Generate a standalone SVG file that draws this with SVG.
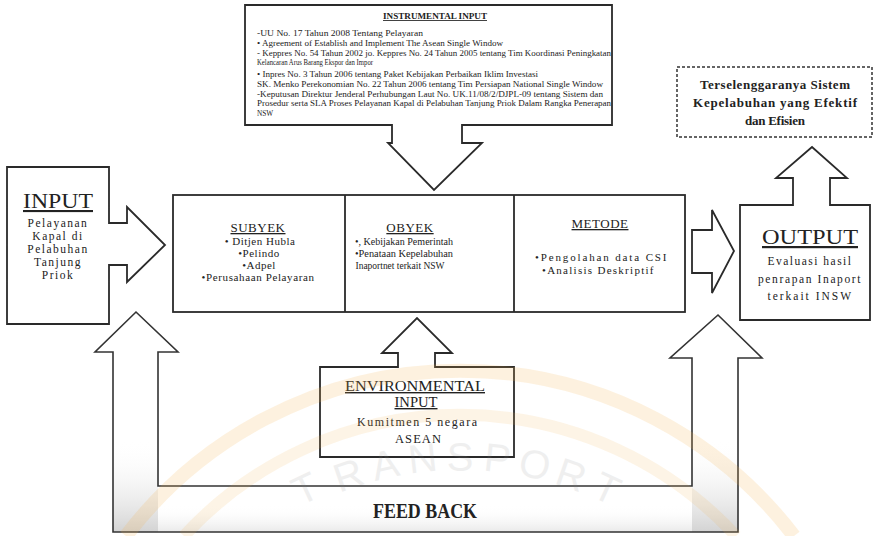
<svg xmlns="http://www.w3.org/2000/svg" width="875" height="536" viewBox="0 0 875 536">
<style>
.box{fill:#fff;stroke:#2a2a2a;stroke-width:1.8;stroke-linejoin:miter}
.fb{fill:none;stroke:#333;stroke-width:1.6}
.t{font-family:"Liberation Serif",serif;fill:#222}
.c{text-anchor:middle}
.u{text-decoration:underline}
.s{font-size:7.3px}
.b12{font-size:11px;letter-spacing:0.5px}
.b13{font-size:11.5px;letter-spacing:1.5px}
.wm{font-family:"Liberation Sans",sans-serif;font-size:40px;fill:#888;opacity:0.13;text-anchor:middle}
</style>
<defs>
<linearGradient id="stip" x1="0" y1="0" x2="0" y2="1">
<stop offset="0" stop-color="#fff" stop-opacity="0"/>
<stop offset="1" stop-color="#c8c8c8" stop-opacity="0.8"/>
</linearGradient>
</defs>

<g id="feedback">
<rect x="113" y="440" width="45" height="92" fill="url(#stip)"/>
<rect x="692" y="440" width="46" height="92" fill="url(#stip)"/>
<rect x="158" y="505" width="534" height="27" fill="url(#stip)" opacity="0.5"/>
<path class="fb" d="M113,532 V352 H95 L136,312 L178,352 H158 V486 H692 V358 H670 L718,315 L762,358 H738 V532 Z"/>
<text class="t c" x="425" y="518" font-size="21" font-weight="bold" textLength="104" lengthAdjust="spacingAndGlyphs">FEED BACK</text>
</g>

<g id="instrumental">
<path class="box" d="M245,5 H612 V125 H462 V143 H482 L434,190 L388,143 H392 V125 H245 Z"/>
<text class="t c u" x="435" y="19" font-size="8.5" font-weight="bold" textLength="104" lengthAdjust="spacingAndGlyphs">INSTRUMENTAL INPUT</text>
<text class="t s" x="257" y="36" textLength="166" lengthAdjust="spacingAndGlyphs">-UU No. 17 Tahun 2008 Tentang Pelayaran</text>
<text class="t s" x="257" y="46" textLength="246" lengthAdjust="spacingAndGlyphs">• Agreement of Establish and Implement The Asean Single Window</text>
<text class="t s" x="257" y="56" textLength="354" lengthAdjust="spacingAndGlyphs">- Keppres No. 54 Tahun 2002 jo. Keppres No. 24 Tahun 2005 tentang Tim Koordinasi Peningkatan</text>
<text class="t s" x="257" y="65" textLength="116" lengthAdjust="spacingAndGlyphs">Kelancaran Arus Barang Ekspor dan Impor</text>
<text class="t s" x="257" y="77" textLength="281" lengthAdjust="spacingAndGlyphs">• Inpres No. 3 Tahun 2006 tentang Paket Kebijakan Perbaikan Iklim Investasi</text>
<text class="t s" x="257" y="87" textLength="346" lengthAdjust="spacingAndGlyphs">SK. Menko Perekonomian No. 22 Tahun 2006 tentang Tim Persiapan National Single Window</text>
<text class="t s" x="257" y="97" textLength="346" lengthAdjust="spacingAndGlyphs">-Keputusan Direktur Jenderal Perhubungan Laut No. UK.11/08/2/DJPL-09 tentang Sistem dan</text>
<text class="t s" x="257" y="106" textLength="354" lengthAdjust="spacingAndGlyphs">Prosedur serta SLA Proses Pelayanan Kapal di Pelabuhan Tanjung Priok Dalam Rangka Penerapan</text>
<text class="t s" x="257" y="116">NSW</text>
</g>

<g id="input">
<path class="box" d="M7,167 H109 V223 H127 V207 L165,245 L127,282 V265 H109 V324 H7 Z"/>
<text class="t c u" x="58" y="208" font-size="21" textLength="70" lengthAdjust="spacingAndGlyphs">INPUT</text>
<text class="t c b13" x="58" y="227">Pelayanan</text>
<text class="t c b13" x="58" y="240">Kapal di</text>
<text class="t c b13" x="58" y="253">Pelabuhan</text>
<text class="t c b13" x="58" y="266">Tanjung</text>
<text class="t c b13" x="58" y="279">Priok</text>
</g>

<g id="process">
<rect class="box" x="173" y="195" width="512" height="117"/>
<line class="box" x1="345" y1="195" x2="345" y2="312"/>
<line class="box" x1="514" y1="195" x2="514" y2="312"/>
<text class="t c u" x="258" y="232" font-size="13" letter-spacing="0.5">SUBYEK</text>
<text class="t c b12" x="260" y="245">• Ditjen Hubla</text>
<text class="t c b12" x="259" y="257">•Pelindo</text>
<text class="t c b12" x="259" y="269">•Adpel</text>
<text class="t c b12" x="258" y="281" textLength="113">•Perusahaan Pelayaran</text>
<text class="t c u" x="410" y="232" font-size="13" letter-spacing="0.5">OBYEK</text>
<text class="t c" x="404" y="245" font-size="11" textLength="98" lengthAdjust="spacingAndGlyphs">•, Kebijakan Pemerintah</text>
<text class="t c" x="404" y="257" font-size="11" textLength="98" lengthAdjust="spacingAndGlyphs">•Penataan Kepelabuhan</text>
<text class="t c" x="400" y="269" font-size="11" textLength="89" lengthAdjust="spacingAndGlyphs">Inaportnet terkait NSW</text>
<text class="t c u" x="600" y="228" font-size="13" letter-spacing="0.5">METODE</text>
<text class="t c b12" x="601" y="261" textLength="132">•Pengolahan data CSI</text>
<text class="t c b12" x="598" y="274" textLength="112">•Analisis Deskriptif</text>
</g>

<g id="connectors">
<path class="box" d="M692,230 H712 V210 L734,251 L712,293 V273 H692 Z"/>
</g>

<g id="output">
<path class="box" d="M740,205 H793 V178 H776 L812,147 L847,178 H830 V205 H870 V320 H740 Z"/>
<text class="t c u" x="810" y="244" font-size="22" textLength="96" lengthAdjust="spacingAndGlyphs">OUTPUT</text>
<text class="t c b13" x="810" y="265" textLength="85">Evaluasi hasil</text>
<text class="t c b13" x="810" y="283" textLength="104">penrapan Inaport</text>
<text class="t c b13" x="810" y="300" textLength="85">terkait INSW</text>
</g>

<g id="goal">
<rect x="677" y="67" width="195" height="70" fill="#fff" stroke="#333" stroke-width="1.5" stroke-dasharray="3,2"/>
<text class="t c" x="775" y="89" font-size="13" font-weight="bold" textLength="150">Terselenggaranya Sistem</text>
<text class="t c" x="775" y="107" font-size="13" font-weight="bold" textLength="164">Kepelabuhan yang Efektif</text>
<text class="t c" x="775" y="125" font-size="13" font-weight="bold" textLength="60">dan Efisien</text>
</g>

<g id="environmental">
<path class="box" d="M320,367 H398 V353 H382 L417,318 L452,353 H435 V367 H514 V457 H320 Z"/>
<text class="t c u" x="415" y="391" font-size="14" textLength="140" lengthAdjust="spacingAndGlyphs">ENVIRONMENTAL</text>
<text class="t c u" x="416" y="407" font-size="14" textLength="43" lengthAdjust="spacingAndGlyphs">INPUT</text>
<text class="t c" x="417" y="426" font-size="12" textLength="120">Kumitmen 5 negara</text>
<text class="t c" x="418" y="443" font-size="12.5" textLength="46">ASEAN</text>
</g>

<g id="watermark">
<path d="M126,536 A420,420 0 0 1 794,536" fill="none" stroke="#f2b04f" stroke-width="14" opacity="0.18"/>
<path d="M184,536 A375,375 0 0 1 736,536" fill="none" stroke="#f2b04f" stroke-width="12" opacity="0.14"/>
<text class="wm" transform="translate(311,501) rotate(-25)">T</text>
<text class="wm" transform="translate(353,488) rotate(-19)">R</text>
<text class="wm" transform="translate(388,478) rotate(-12.6)">A</text>
<text class="wm" transform="translate(424,472) rotate(-6.3)">N</text>
<text class="wm" transform="translate(460,471)">S</text>
<text class="wm" transform="translate(496,472) rotate(6.3)">P</text>
<text class="wm" transform="translate(532,478) rotate(12.6)">O</text>
<text class="wm" transform="translate(567,488) rotate(19)">R</text>
<text class="wm" transform="translate(601,501) rotate(25)">T</text>
</g>
</svg>
